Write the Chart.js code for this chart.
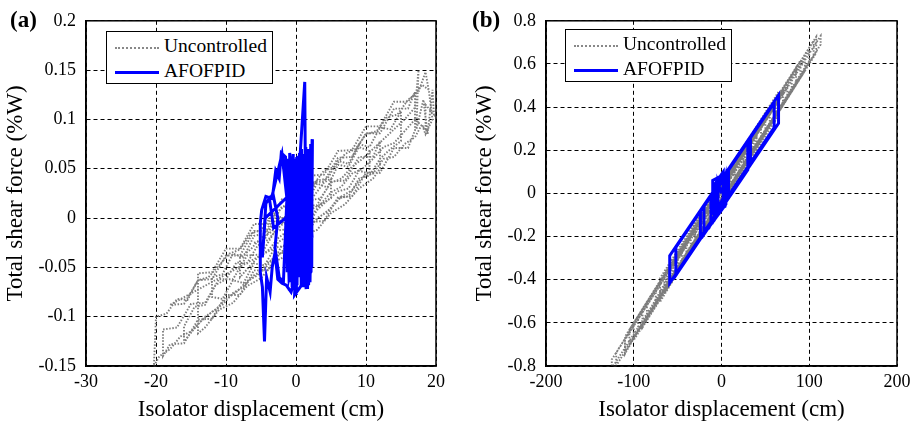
<!DOCTYPE html>
<html>
<head>
<meta charset="utf-8">
<script src="https://cdn.jsdelivr.net/npm/chart.js@4/dist/chart.umd.min.js"></script>
<style>
  body { margin: 0; background: #fff; font-family: 'Liberation Serif', 'Times New Roman', Times, serif; }
  .panel { position: absolute; top: 0; height: 424px; }
  .tag { position: absolute; top: 7px; font-size: 23px; font-weight: bold; }
  .legend { position: absolute; width: 165px; height: 51px; border: 1.5px solid #000; background: #fff; font-size: 19.5px; }
  .legend .row { position: absolute; left: 8px; height: 24px; line-height: 24px; white-space: nowrap; }
  .legend .smp { display: inline-block; width: 44px; vertical-align: middle; margin-right: 5px; }
</style>
</head>
<body>

<div class="panel" style="left:0;width:460px"><canvas id="myChart" width="460" height="424"></canvas></div>
<div class="panel" style="left:460px;width:458px"><canvas id="myChart2" width="458" height="424"></canvas></div>

<div class="tag" style="left:10px">(a)</div>
<div class="tag" style="left:472px">(b)</div>

<div class="legend" style="left:106px;top:31px">
  <div class="row" style="top:2px"><span class="smp" style="border-top:2px dotted #888"></span>Uncontrolled</div>
  <div class="row" style="top:27px"><span class="smp" style="border-top:3px solid #0000ff"></span>AFOFPID</div>
</div>
<div class="legend" style="left:565px;top:29px">
  <div class="row" style="top:2px"><span class="smp" style="border-top:2px dotted #888"></span>Uncontrolled</div>
  <div class="row" style="top:27px"><span class="smp" style="border-top:3px solid #0000ff"></span>AFOFPID</div>
</div>

<script>
// ticks
const ticksXa = [-30, -20, -10, 0, 10, 20]
const ticksYa = [-0.15, -0.1, -0.05, 0, 0.05, 0.1, 0.15, 0.2]
const labelsYa = ['-0.15', '-0.1', '-0.05', '0', '0.05', '0.1', '0.15', '0.2']
const ticksXb = [-200, -100, 0, 100, 200]
const ticksYb = [-0.8, -0.6, -0.4, -0.2, 0, 0.2, 0.4, 0.6, 0.8]
const labelsYb = ['-0.8', '-0.6', '-0.4', '-0.2', '0', '0.2', '0.4', '0.6', '0.8']

// (a) Uncontrolled
const uncA_x = [-6,-4.5,-3,-1.5,0,1.5,3,4.5,6,7.5,9,10.5,
  10.5,9,7.5,6,4.5,3,1.5,0,-1.5,-3,-4.5,-6,-7.5,-9,-10.5,-12,
  -12,-10.5,-9,-7.5,-6,-4.5,-3,-1.5,0,1.5,3,4.5,6,7.5,9,10.5,12,13.5,15,
  15,13.5,12,10.5,9,7.5,6,4.5,3,1.5,0,-1.5,-3,-4.5,-6,-7.5,-9,-10.5,-12,-13.5,-15,-16.5,-18,-19.5,-20.3,
  -20,-18.5,-17,-15.5,-14,-12.5,-11,-9.5,-8,-6.5,-5,-3.5,-2,-0.5,1,2.5,4,5.5,7,8.5,10,11.5,13,14.5,16,17.5,18.5,19,
  19.5,18.5,18,17,15.5,14,12.5,11,9.5,8,6.5,5,3.5,2,0.5,-1,-2.5,-4,-5.5,-7,-8.5,-10,-11.5,-13,-14.5,-16,
  -16,-14.5,-13,-11.5,-10,-8.5,-7,-5.5,-4,-2.5,-1,0.5,2,3.5,5,6.5,8,9.5,11,12.5,14,15.5,17,17.5,17.2,18.2,18.8,19.5,19.7,18.5,
  18.5,17,15.5,14,12.5,11,9.5,8,6.5,5,3.5,2,0.5,-1,-2.5,-4,-5.5,-7,-8,
  -8,-6.5,-5,-3.5,-2,-0.5,1,2.5,4,5,
  5,3.5,2,0.5,-1,-2.5,-3,
  -18,-16,-14,-12,-10,-8,-6,-4,-2,0,2,4,6,8,10,12,14,16,17,
  17,16,14,12,10,8,6,4,2,0,-2,-4,-6,-8,-10,-12,-14,-16,-18,-19,
  -19,-17,-15,-13,-11,-9,-7,-5,-3,-1,1,3,5,7,9,11,12,
  12,11,9,7,5,3,1,-1,-3,-5,-7,-9,-11,-13,-14,
  -14,-12,-10,-8,-6,-4,-2,0,2,4,6,8,10,12,14,16,18,19]
const uncA_y = [-0.025,-0.022,-0.002,-0.006,0.018,0.015,0.035,0.031,0.054,0.052,0.072,0.068,
  0.045,0.048,0.030,0.027,0.018,0.008,-0.010,-0.012,-0.028,-0.030,-0.048,-0.046,-0.066,-0.063,-0.082,-0.080,
  -0.060,-0.057,-0.036,-0.040,-0.018,-0.016,0.003,-0.001,0.022,0.020,0.038,0.040,0.058,0.055,0.075,0.072,0.092,0.090,0.108,
  0.078,0.070,0.060,0.043,0.040,0.022,0.020,0.006,0.000,-0.016,-0.020,-0.034,-0.038,-0.052,-0.058,-0.070,-0.076,-0.088,-0.095,-0.104,-0.115,-0.120,-0.133,-0.140,-0.150,
  -0.100,-0.097,-0.082,-0.083,-0.063,-0.060,-0.048,-0.036,-0.032,-0.016,-0.012,0.002,0.010,0.018,0.028,0.034,0.048,0.052,0.065,0.070,0.085,0.088,0.102,0.105,0.120,0.128,0.148,0.128,
  0.100,0.085,0.095,0.082,0.075,0.062,0.060,0.045,0.042,0.028,0.022,0.010,0.002,-0.008,-0.018,-0.026,-0.038,-0.045,-0.058,-0.064,-0.075,-0.082,-0.093,-0.100,-0.112,-0.125,
  -0.110,-0.090,-0.088,-0.068,-0.062,-0.045,-0.046,-0.028,-0.022,-0.010,0.000,0.006,0.018,0.020,0.036,0.040,0.052,0.060,0.070,0.080,0.090,0.100,0.112,0.150,0.090,0.120,0.085,0.130,0.105,0.115,
  0.090,0.100,0.088,0.076,0.072,0.060,0.050,0.045,0.032,0.026,0.014,0.008,-0.004,-0.012,-0.020,-0.033,-0.040,-0.052,-0.060,
  -0.040,-0.032,-0.020,-0.014,0.000,0.004,0.016,0.022,0.036,0.040,
  0.020,0.014,0.000,-0.006,-0.018,-0.024,-0.030,
  -0.088,-0.087,-0.063,-0.062,-0.038,-0.038,-0.013,-0.013,0.012,0.012,0.036,0.037,0.061,0.062,0.086,0.086,0.111,0.111,0.128,
  0.089,0.071,0.071,0.046,0.046,0.022,0.021,-0.003,-0.004,-0.028,-0.028,-0.053,-0.053,-0.078,-0.078,-0.102,-0.103,-0.127,-0.128,-0.140,
  -0.113,-0.111,-0.087,-0.086,-0.062,-0.062,-0.038,-0.037,-0.013,-0.011,0.012,0.013,0.037,0.038,0.062,0.062,0.078,
  0.050,0.040,0.030,0.014,0.005,-0.012,-0.018,-0.037,-0.044,-0.061,-0.069,-0.086,-0.093,-0.111,-0.117,
  -0.056,-0.055,-0.031,-0.031,-0.006,-0.006,0.019,0.019,0.043,0.044,0.068,0.069,0.093,0.093,0.118,0.118,0.135,0.130]

// (a) AFOFPID
const ctrlA_x = [0,
  -1.0,-0.85,-0.7,-0.55,-0.4,-0.25,-0.1,0.05,0.2,0.35,0.5,0.65,0.8,0.95,1.1,1.25,1.4,1.55,1.7,1.85,2.0,2.15,2.3,
  2.25,2.1,1.95,1.8,1.65,1.5,1.35,1.2,1.05,0.9,0.75,0.6,0.45,0.3,0.15,0.0,-0.15,-0.3,-0.45,-0.6,-0.75,-0.9,
  -0.9,-0.7,-0.5,-0.3,-0.1,0.1,0.3,0.5,0.7,0.9,1.1,1.3,1.5,1.7,1.9,2.1,
  2.2,2.0,1.8,1.6,1.4,1.2,1.0,0.8,0.6,0.4,0.2,0.0,-0.2,-0.4,-0.6,-0.8,-1.0,-1.2,-1.3,
  -1.25,-1.1,-0.95,-0.8,-0.65,-0.5,-0.35,-0.2,-0.05,0.1,0.25,
  0.6,1.1,-0.4,1.9,0.2,1.7,-0.7,2.2,0.9,-0.3,1.5,2.3,1.0,-0.9,-0.5,1.25,1.45,0.3,2.1,-0.2,0.5,1.9,2.35,2.2,0.1,0.8,1.6,0.4,-0.6,1.2,2.0,-1.0,
  -1.5,-2.1,-2.4,-2.9,-3.3,-2.6,-3.0,-2.4,-1.8,-1.3,-2.0,
  -3.5,-4.3,-4.9,-5.1,-5.1,-4.8,-4.5,-4.2,-3.7,-3.4,-3.0,-2.6,-2.0,-1.4,-0.7,-0.3,
  0.6,1.4,2.1,1.8,0.3,2.2,1.0,-0.1,2.3,1.7,0.5,1.3,2.0,0.0,
  -4.4,-4.8,-4.3,-3.8,-3.2,-1.5,0]
const ctrlA_y = [0,
  0.06,-0.06,0.05,-0.07,0.065,-0.055,0.06,-0.078,0.058,-0.06,0.066,-0.05,0.07,-0.065,0.06,-0.05,0.072,-0.07,0.065,-0.06,0.07,-0.055,0.08,
  -0.05,0.075,-0.065,0.06,-0.072,0.07,-0.06,0.065,-0.055,0.06,-0.07,0.055,-0.06,0.062,-0.068,0.06,-0.065,0.058,-0.062,0.06,-0.055,0.065,
  0.03,-0.04,0.045,-0.03,0.05,-0.045,0.035,-0.05,0.04,-0.035,0.05,-0.04,0.03,-0.05,0.045,-0.03,
  0.02,-0.065,0.068,-0.02,0.055,-0.066,0.01,-0.06,0.066,-0.01,0.06,-0.07,0.02,-0.06,0.055,-0.065,0.05,-0.04,0.045,
  -0.055,0.06,-0.05,0.055,-0.06,0.05,-0.065,0.058,-0.06,0.062,-0.05,
  0.05,-0.055,0.06,-0.05,0.058,-0.064,0.045,0.068,-0.07,0.06,-0.05,0.075,-0.046,0.066,-0.058,0.138,-0.072,0.052,-0.055,-0.078,0.064,-0.032,0.08,-0.05,0.04,-0.065,0.07,-0.06,0.05,-0.04,0.05,-0.06,
  0.062,0.066,0.04,0.048,0.025,0.0,-0.03,-0.06,-0.065,0.02,0.065,
  0.02,0.022,0.008,-0.005,-0.055,-0.07,-0.125,-0.06,-0.075,-0.05,-0.035,-0.062,-0.066,-0.068,-0.075,-0.065,
  0.055,-0.06,0.073,-0.068,0.06,0.045,-0.07,0.05,-0.02,0.07,-0.055,0.06,-0.06,0.03,
  0.0,-0.04,0.015,0.02,-0.01,0.0,0]

// (b) Uncontrolled
const uncB_x = [0,20,20,-30,-30,45,45,-60,-60,80,80,-95,-95,113,113,-125,-125,100,100,-110,-110,70,70,-75,-75,55,55,-45,-45,30,30,-20,-20,10,10,-50,-50,60,60,-40,-40,40,40,0,
  -70,-70,65,65,-35,-35,50,50,-65,-65,25,25,-15,-15,85,85,-85,-85,105,105,-120,-120,90,90,-100,-100,0,
  -110,-110,108,108,-90,-90,95,95,-105,-105,75,75,-55,-55,40,40,-30,-30,15,15,-10,-10,62,62,-62,-62,35,35,-25,-25,0]
const uncB_y = [0,0.153,0.103,-0.217,-0.167,0.313,0.263,-0.409,-0.359,0.537,0.487,-0.633,-0.583,0.73,0.69,-0.81,-0.77,0.665,0.615,-0.729,-0.679,0.473,0.423,-0.505,-0.455,0.377,0.327,-0.313,-0.263,0.217,0.167,-0.153,-0.103,0.089,0.039,-0.365,-0.30,0.429,0.36,-0.30,-0.24,0.30,0.24,-0.03,
  -0.503,-0.393,0.471,0.361,-0.279,-0.169,0.365,0.275,-0.461,-0.371,0.21,0.11,-0.146,-0.046,0.584,0.504,-0.584,-0.504,0.707,0.637,-0.798,-0.738,0.616,0.536,-0.68,-0.60,0.05,
  -0.744,-0.664,0.726,0.651,-0.621,-0.536,0.628,0.568,-0.702,-0.632,0.49,0.45,-0.392,-0.322,0.256,0.216,-0.227,-0.187,0.101,0.06,-0.094,-0.05,0.412,0.37,-0.417,-0.38,0.219,0.18,-0.2,-0.16,-0.005]

// (b) AFOFPID
const ctrlB_x = [0,4,4,-8,-8,2,2,-12,-12,5,5,-24,-24,33,33,-20,-20,60,60,-59,-59,65,65,-52,-52,30,30,-20,-20,8,8,-6,-6,2,2,-10,-10,4,4,-4,-4,0]
const ctrlB_y = [0,0.07,-0.04,-0.12,0.04,0.10,-0.02,-0.14,-0.02,0.08,-0.05,-0.21,-0.08,0.263,0.133,-0.19,-0.06,0.42,0.305,-0.416,-0.289,0.456,0.325,-0.38,-0.25,0.24,0.11,-0.19,-0.06,0.11,-0.02,-0.11,0.02,0.06,-0.04,-0.09,0.06,0.09,-0.06,-0.08,0.05,0]

function pontos(xs, ys) {
  return xs.map(function (x, i) { return { x: x, y: ys[i] } })
}

const caixa = {
  id: 'caixa',
  afterDraw(chart) {
    const a = chart.chartArea
    const c = chart.ctx
    c.save()
    c.strokeStyle = '#000'
    c.lineWidth = 1.5
    c.strokeRect(a.left, a.top, a.right - a.left, a.bottom - a.top)
    c.restore()
  }
}

const familia = "'Liberation Serif', 'Times New Roman', Times, serif"

function grafico(id, dados1, dados2, tx, ty, ly, padRight, titlePad) {
  const tickFont = { family: familia, size: 18 }
  const titleFont = { family: familia, size: 23, lineHeight: 1.2 }
  return new Chart(document.getElementById(id), {
    type: 'scatter',
    data: {
      datasets: [{
        label: 'Uncontrolled',
        data: dados1,
        showLine: true,
        borderColor: '#7d7d7d',
        borderWidth: 1.9,
        borderDash: [1.5, 1.6],
        pointRadius: 0,
        tension: 0,
        order: 2
      }, {
        label: 'AFOFPID',
        data: dados2,
        showLine: true,
        borderColor: '#0000ff',
        borderWidth: 3,
        pointRadius: 0,
        tension: 0,
        order: 1
      }]
    },
    options: {
      responsive: false,
      animation: false,
      events: [],
      layout: { padding: { top: 13, right: padRight, left: 0, bottom: 0 } },
      plugins: { legend: { display: false }, tooltip: { enabled: false } },
      scales: {
        x: {
          min: tx[0], max: tx[tx.length - 1],
          afterBuildTicks: function (s) { s.ticks = tx.map(function (v) { return { value: v } }) },
          afterFit: function (s) { s.height = 58 },
          grid: { color: '#000', lineWidth: 1, drawTicks: false },
          border: { display: true, color: '#000', width: 1.5, dash: [4, 3] },
          ticks: { color: '#000', font: tickFont, padding: 5, maxRotation: 0,
            callback: function (v) { return String(v) } },
          title: { display: true, text: 'Isolator displacement (cm)', color: '#000', font: titleFont, padding: { top: 0, bottom: 0 } }
        },
        y: {
          min: ty[0], max: ty[ty.length - 1],
          afterBuildTicks: function (s) { s.ticks = ty.map(function (v) { return { value: v } }) },
          afterFit: function (s) { s.width = 86 },
          grid: { color: '#000', lineWidth: 1, drawTicks: false },
          border: { display: true, color: '#000', width: 1.5, dash: [4, 3] },
          ticks: { color: '#000', font: tickFont, padding: 10,
            callback: function (v, i) { return ly[i] } },
          title: { display: true, text: 'Total shear force (%W)', color: '#000', font: titleFont, padding: { top: titlePad, bottom: 0 } }
        }
      }
    },
    plugins: [caixa]
  })
}

grafico('myChart', pontos(uncA_x, uncA_y), pontos(ctrlA_x, ctrlA_y), ticksXa, ticksYa, labelsYa, 24, 2)
grafico('myChart2', pontos(uncB_x, uncB_y), pontos(ctrlB_x, ctrlB_y), ticksXb, ticksYb, labelsYb, 21, 11)
</script>
</body>
</html>
